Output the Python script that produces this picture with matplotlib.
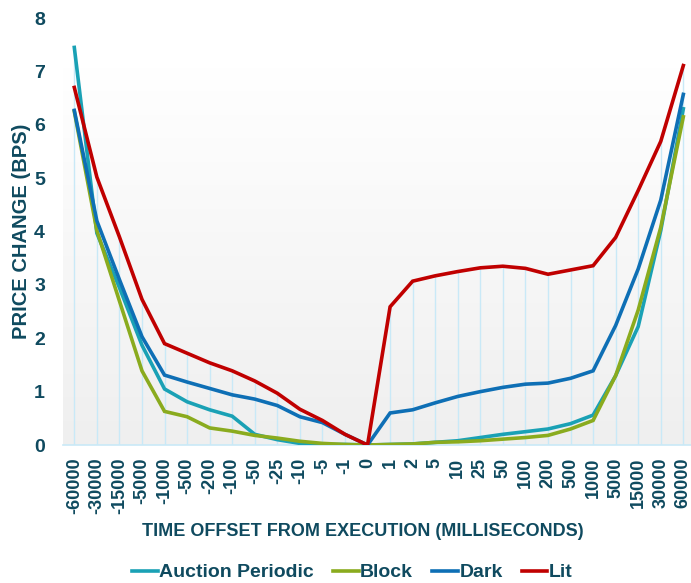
import matplotlib
matplotlib.use("Agg")
import matplotlib.pyplot as plt
import numpy as np

categories = ["-60000", "-30000", "-15000", "-5000", "-1000", "-500", "-200", "-100",
              "-50", "-25", "-10", "-5", "-1", "0", "1", "2", "5", "10", "25", "50",
              "100", "200", "500", "1000", "5000", "15000", "30000", "60000"]

auction_periodic = [7.45, 3.97, 2.95, 1.87, 1.05, 0.81, 0.66, 0.54, 0.20, 0.10, 0.03, 0.01, 0.01, 0.0,
                    0.01, 0.02, 0.05, 0.08, 0.14, 0.20, 0.25, 0.30, 0.40, 0.56, 1.30, 2.22, 4.02, 6.30]
block = [6.25, 4.02, 2.70, 1.39, 0.63, 0.53, 0.32, 0.26, 0.18, 0.13, 0.07, 0.03, 0.01, 0.0,
         0.01, 0.02, 0.05, 0.06, 0.08, 0.11, 0.14, 0.18, 0.30, 0.46, 1.30, 2.53, 4.08, 6.15]
dark = [6.27, 4.20, 3.10, 2.03, 1.31, 1.18, 1.06, 0.94, 0.86, 0.74, 0.53, 0.42, 0.20, 0.0,
        0.60, 0.66, 0.79, 0.91, 1.00, 1.08, 1.14, 1.16, 1.25, 1.39, 2.24, 3.30, 4.59, 6.57]
lit = [6.70, 5.02, 3.90, 2.73, 1.90, 1.72, 1.54, 1.39, 1.20, 0.97, 0.67, 0.46, 0.20, 0.0,
       2.59, 3.07, 3.17, 3.25, 3.32, 3.35, 3.31, 3.20, 3.28, 3.36, 3.89, 4.77, 5.69, 7.11]

series_names = ["Auction Periodic", "Block", "Dark", "Lit"]
series_colors = ["#1aa1b5", "#8aab1e", "#0e6fb5", "#c00000"]

text_color = "#0f4a5f"
plt.rcParams['font.family'] = ['Liberation Sans', 'DejaVu Sans']
plt.rcParams['font.weight'] = 'bold'

fig = plt.figure(figsize=(6.91, 5.83), dpi=100)
ax = fig.add_axes([0.0912, 0.2367, 0.9088, 0.969 - 0.2367])

x = np.arange(len(categories))
all_series = [auction_periodic, block, dark, lit]

# gradient background (chart area): white at top, light grey at bottom
grad = np.linspace(1.0, 0.0, 256).reshape(-1, 1)
cmap = matplotlib.colors.LinearSegmentedColormap.from_list("g", ["#efefef", "#ffffff"])
ax.imshow(grad, aspect='auto', cmap=cmap, extent=[-0.5, 27.6, 0, 7.08],
          origin='upper', zorder=0, vmin=0, vmax=1)

# drop lines
maxvals = np.max(np.array(all_series), axis=0)
ax.vlines(x, 0, maxvals, color="#c9e9f7", lw=1.0, zorder=1)

for name, vals, col in zip(series_names, all_series, series_colors):
    ax.plot(x, vals, color=col, lw=2.6, label=name, zorder=3, solid_joinstyle='miter')

ax.set_xlim(-0.5, 27.34)
ax.set_ylim(0, 8)
ax.set_yticks(np.arange(0, 9, 1))
ax.set_xticks(x)
ax.set_xticklabels(categories, rotation=90)
for s in ["top", "right", "left"]:
    ax.spines[s].set_visible(False)
ax.spines["bottom"].set_color("#c9e9f7")
ax.spines["bottom"].set_linewidth(1.2)
ax.tick_params(axis='both', length=0, colors=text_color)
ax.tick_params(axis='y', labelsize=14, pad=13)
ax.tick_params(axis='x', labelsize=13, pad=9)
for lbl in ax.get_xticklabels() + ax.get_yticklabels():
    lbl.set_fontweight('bold')

ax.set_ylabel("PRICE CHANGE (BPS)", fontsize=14.5, fontweight='bold', color=text_color)
ax.yaxis.set_label_coords(-0.051, 0.5)
fig.text(0.525, 0.088, "TIME OFFSET FROM EXECUTION (MILLISECONDS)", ha='center', va='center',
         fontsize=13, fontweight='bold', color=text_color)

leg = fig.legend(loc='center', bbox_to_anchor=(0.51, 0.018), ncol=4, frameon=False,
                 prop={'weight': 'bold', 'size': 14}, handlelength=1.3, handletextpad=0.08,
                 columnspacing=1.0, borderaxespad=0)
for t in leg.get_texts():
    t.set_color(text_color)
for h in leg.get_lines():
    h.set_linewidth(2.6)

fig.savefig("out.png", dpi=100)
